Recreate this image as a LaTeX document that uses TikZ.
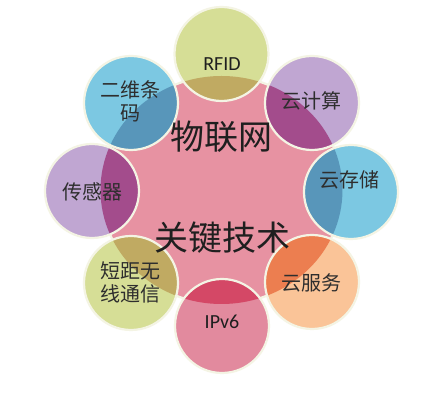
\documentclass[tikz,border=0pt]{standalone}
\usepackage{fontspec}
\setmainfont{Carlito}
\newfontfamily\cjk{Noto Sans CJK SC}
\usetikzlibrary{positioning}
\definecolor{hubCol}{RGB}{231,146,162}
\definecolor{rimCol}{RGB}{244,244,228}
\definecolor{limeCol}{RGB}{214,222,150}
\definecolor{limeDk}{RGB}{192,170,98}
\definecolor{lilaCol}{RGB}{192,166,210}
\definecolor{lilaDk}{RGB}{163,76,140}
\definecolor{skyCol}{RGB}{124,200,226}
\definecolor{skyDk}{RGB}{88,150,186}
\definecolor{peachCol}{RGB}{250,196,152}
\definecolor{peachDk}{RGB}{236,126,80}
\definecolor{roseCol}{RGB}{226,138,158}
\definecolor{roseDk}{RGB}{212,72,102}
\tikzset{
  rim/.style={draw=rimCol,line width=2.2pt},
  sat/.style={font=\cjk\fontsize{20}{23}\selectfont,align=center,text=black!82},
  tag/.style={font=\fontsize{20}{23}\selectfont,text=black!88},
  hub/.style={font=\cjk\fontsize{34}{38}\selectfont,text=black!88},
}

\begin{document}
\begin{tikzpicture}[x=1pt,y=1pt]
    \useasboundingbox[fill=white] (-221.5,-213) rectangle (212.5,190);
    % --- satellite centres ---
    \coordinate (rfid) at (0,136);
    \coordinate (cloudc) at (90.5,87);
    \coordinate (clouds) at (129.5,-2);
    \coordinate (cloudv) at (90.5,-92);
    \coordinate (ipv) at (0.5,-136);
    \coordinate (radio) at (-90.5,-93);
    \coordinate (sensor) at (-129.5,-1);
    \coordinate (qrcode) at (-90.5,87);
    % --- hub ---
    \fill[hubCol] (0,0) ellipse [x radius=121pt,y radius=114pt];
    \draw[rim] (0,0) ellipse [x radius=121pt,y radius=114pt];
    % --- satellites, then their overlap with the hub ---
    \foreach \n/\c in {rfid/limeCol,cloudc/lilaCol,clouds/skyCol,cloudv/peachCol,
                       ipv/roseCol,radio/limeCol,sensor/lilaCol,qrcode/skyCol}
      \fill[\c] (\n) circle (47pt);
    \begin{scope}
      \clip (0,0) ellipse [x radius=121pt,y radius=114pt];
      \foreach \n/\c in {rfid/limeDk,cloudc/lilaDk,clouds/skyDk,cloudv/peachDk,
                         ipv/roseDk,radio/limeDk,sensor/lilaDk,qrcode/skyDk}
        \fill[\c] (\n) circle (47pt);
    \end{scope}
    \foreach \n in {rfid,cloudc,clouds,cloudv,ipv,radio,sensor,qrcode}
      \draw[rim] (\n) circle (47pt);
    % --- labels ---
    \node[hub] (iot) at (0.5,53) {物联网};
    \node[hub] (keytech) at (1.5,-48) {关键技术};
    \node[tag] (rfidT) at (0.5,126) {RFID};
    \node[tag] (ipvT) at (0.5,-132) {IPv6};
    \node[sat] (cloudcT) at (90.5,89) {云计算};
    \node[sat] (cloudsT) at (128.5,10) {云存储};
    \node[sat] (cloudvT) at (90.5,-93) {云服务};
    \node[sat] (radioT) at (-90.5,-92) {短距无\\线通信};
    \node[sat] (sensorT) at (-128.5,-2) {传感器};
    \node[sat] (qrcodeT) at (-90.5,89) {二维条\\码};
\end{tikzpicture}
\end{document}
